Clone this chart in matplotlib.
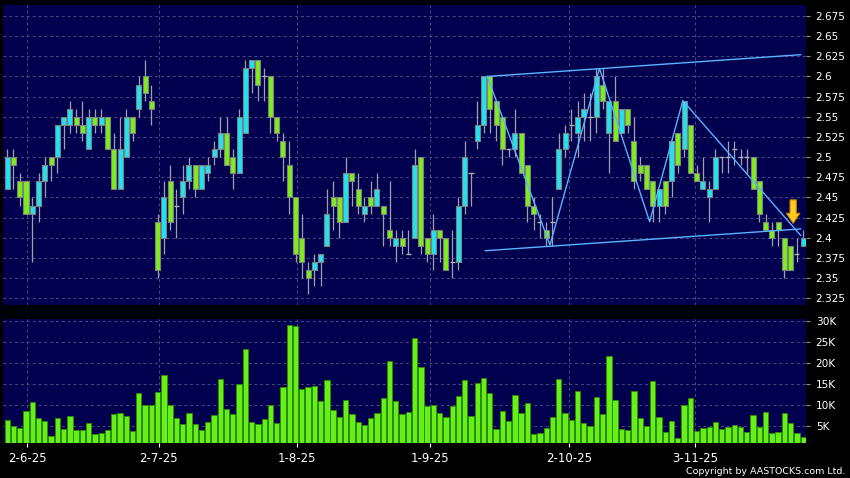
import matplotlib
matplotlib.use("Agg")
import matplotlib.pyplot as plt
import numpy as np

# daily OHLC, one entry per trading day (index 0 .. 127)
opens = [2.46, 2.50, 2.47, 2.47, 2.43, 2.44, 2.47, 2.50, 2.50, 2.54,
         2.54, 2.55, 2.54, 2.51, 2.55, 2.54, 2.55, 2.51, 2.46, 2.50,
         2.55, 2.56, 2.60, 2.57, 2.42, 2.40, 2.47, 2.44, 2.45, 2.47,
         2.49, 2.46, 2.48, 2.50, 2.51, 2.53, 2.50, 2.48, 2.53, 2.61,
         2.62, 2.60, 2.60, 2.55, 2.52, 2.49, 2.45, 2.40, 2.36, 2.36,
         2.37, 2.39, 2.45, 2.45, 2.42, 2.48, 2.46, 2.43, 2.45, 2.44,
         2.44, 2.41, 2.39, 2.40, 2.38, 2.40, 2.50, 2.40, 2.38, 2.41,
         2.40, 2.37, 2.37, 2.44, 2.48, 2.52, 2.54, 2.60, 2.57, 2.55,
         2.51, 2.51, 2.53, 2.49, 2.44, 2.42, 2.41, 2.42, 2.46, 2.51,
         2.54, 2.53, 2.55, 2.55, 2.55, 2.59, 2.53, 2.57, 2.53, 2.56,
         2.52, 2.49, 2.49, 2.47, 2.44, 2.47, 2.47, 2.53, 2.51, 2.54,
         2.48, 2.46, 2.45, 2.46, 2.50, 2.50, 2.51, 2.50, 2.50, 2.50,
         2.47, 2.42, 2.41, 2.42, 2.40, 2.39, 2.38, 2.39]
highs = [2.51, 2.51, 2.48, 2.47, 2.45, 2.48, 2.50, 2.50, 2.54, 2.55,
         2.57, 2.56, 2.57, 2.56, 2.56, 2.56, 2.55, 2.53, 2.55, 2.56,
         2.55, 2.60, 2.62, 2.59, 2.43, 2.47, 2.49, 2.46, 2.49, 2.50,
         2.49, 2.49, 2.50, 2.52, 2.55, 2.55, 2.51, 2.56, 2.62, 2.62,
         2.62, 2.61, 2.60, 2.55, 2.53, 2.52, 2.45, 2.43, 2.37, 2.38,
         2.38, 2.46, 2.47, 2.45, 2.50, 2.48, 2.48, 2.45, 2.47, 2.48,
         2.44, 2.47, 2.41, 2.41, 2.41, 2.51, 2.50, 2.40, 2.43, 2.41,
         2.40, 2.41, 2.45, 2.52, 2.48, 2.57, 2.60, 2.60, 2.57, 2.55,
         2.51, 2.56, 2.53, 2.49, 2.45, 2.43, 2.42, 2.45, 2.53, 2.54,
         2.56, 2.57, 2.58, 2.58, 2.61, 2.61, 2.57, 2.60, 2.56, 2.56,
         2.55, 2.50, 2.49, 2.47, 2.46, 2.47, 2.52, 2.53, 2.57, 2.54,
         2.49, 2.50, 2.47, 2.51, 2.50, 2.52, 2.52, 2.51, 2.51, 2.50,
         2.47, 2.43, 2.42, 2.42, 2.40, 2.39, 2.40, 2.41]
lows = [2.46, 2.46, 2.44, 2.43, 2.37, 2.42, 2.45, 2.47, 2.48, 2.51,
        2.53, 2.53, 2.52, 2.51, 2.53, 2.53, 2.51, 2.46, 2.46, 2.50,
        2.52, 2.55, 2.57, 2.54, 2.35, 2.38, 2.41, 2.40, 2.43, 2.46,
        2.45, 2.46, 2.47, 2.49, 2.50, 2.49, 2.46, 2.48, 2.53, 2.58,
        2.57, 2.57, 2.53, 2.52, 2.47, 2.43, 2.37, 2.35, 2.33, 2.34,
        2.34, 2.39, 2.41, 2.40, 2.42, 2.44, 2.43, 2.42, 2.43, 2.44,
        2.39, 2.39, 2.37, 2.38, 2.38, 2.40, 2.38, 2.37, 2.36, 2.37,
        2.36, 2.35, 2.36, 2.43, 2.44, 2.51, 2.53, 2.53, 2.52, 2.49,
        2.50, 2.50, 2.48, 2.42, 2.41, 2.40, 2.39, 2.39, 2.46, 2.50,
        2.52, 2.50, 2.52, 2.52, 2.53, 2.56, 2.48, 2.52, 2.53, 2.53,
        2.46, 2.47, 2.46, 2.42, 2.42, 2.43, 2.45, 2.48, 2.50, 2.48,
        2.47, 2.46, 2.42, 2.46, 2.48, 2.48, 2.49, 2.49, 2.48, 2.46,
        2.42, 2.41, 2.39, 2.39, 2.35, 2.36, 2.37, 2.39]
closes = [2.50, 2.49, 2.45, 2.43, 2.44, 2.47, 2.49, 2.49, 2.54, 2.55,
          2.56, 2.54, 2.53, 2.55, 2.54, 2.55, 2.51, 2.46, 2.51, 2.55,
          2.53, 2.59, 2.58, 2.56, 2.36, 2.45, 2.42, 2.44, 2.47, 2.49,
          2.46, 2.49, 2.49, 2.51, 2.53, 2.49, 2.48, 2.55, 2.61, 2.62,
          2.59, 2.60, 2.55, 2.53, 2.50, 2.45, 2.38, 2.37, 2.35, 2.37,
          2.38, 2.43, 2.44, 2.42, 2.48, 2.47, 2.44, 2.44, 2.44, 2.46,
          2.43, 2.40, 2.40, 2.39, 2.38, 2.49, 2.39, 2.38, 2.41, 2.40,
          2.36, 2.37, 2.44, 2.50, 2.48, 2.54, 2.60, 2.56, 2.54, 2.51,
          2.51, 2.53, 2.48, 2.44, 2.43, 2.42, 2.40, 2.42, 2.51, 2.53,
          2.54, 2.55, 2.56, 2.55, 2.60, 2.57, 2.57, 2.52, 2.56, 2.54,
          2.47, 2.48, 2.46, 2.44, 2.46, 2.44, 2.52, 2.49, 2.57, 2.48,
          2.47, 2.47, 2.46, 2.50, 2.50, 2.50, 2.51, 2.50, 2.50, 2.46,
          2.43, 2.41, 2.40, 2.41, 2.36, 2.36, 2.38, 2.40]
# volume in thousands of shares
volumes_k = [6.4, 5.1, 4.5, 8.6, 10.6, 6.8, 6.1, 2.6, 6.8, 4.4,
             7.4, 4.0, 4.0, 5.6, 3.1, 3.3, 4.0, 7.8, 8.0, 7.4,
             3.8, 12.8, 9.9, 9.9, 13.0, 17.2, 9.9, 6.8, 5.5, 8.0,
             5.5, 4.1, 6.0, 7.5, 16.3, 9.1, 7.9, 15.0, 23.4, 6.0,
             5.4, 6.7, 9.9, 5.6, 14.4, 29.0, 28.7, 13.8, 14.4, 14.5,
             10.9, 15.9, 8.9, 7.2, 11.2, 7.9, 6.0, 5.2, 6.8, 8.1,
             11.7, 20.5, 11.0, 7.9, 8.3, 26.0, 19.0, 9.8, 10.0, 8.1,
             7.1, 9.8, 12.1, 15.9, 7.3, 15.2, 16.5, 12.8, 4.3, 8.6,
             6.3, 12.4, 8.0, 10.4, 3.1, 3.3, 4.5, 7.1, 16.3, 8.2,
             6.4, 13.4, 5.6, 5.0, 12.0, 7.8, 21.6, 11.3, 4.3, 4.0,
             13.3, 6.8, 5.0, 15.6, 7.1, 3.6, 6.2, 2.1, 9.9, 11.6,
             3.7, 4.5, 4.8, 6.0, 4.4, 4.8, 5.2, 4.7, 3.5, 7.6,
             4.7, 8.4, 3.4, 3.6, 8.0, 5.6, 3.4, 2.4]

date_labels = ["2-6-25", "2-7-25", "1-8-25", "1-9-25", "2-10-25", "3-11-25"]
date_index = [3.2, 24.2, 46.3, 67.5, 89.7, 109.8]

# hand-drawn trend lines (x in trading-day index, y in price)
upper_x = [76.6, 126.6]
upper_y = [2.600, 2.627]
lower_x = [76.3, 126.6]
lower_y = [2.384, 2.411]
zigzag_x = [76.6, 86.6, 94.5, 102.5, 107.8, 126.6]
zigzag_y = [2.600, 2.391, 2.610, 2.420, 2.570, 2.403]
arrow_x = 125.4
arrow_top, arrow_tip = 2.447, 2.418

BG = "#00004e"
CYAN = "#1ee4f0"
GREEN = "#7cee1c"
VOLGREEN = "#66f01a"
GRID = "#4c4c80"

o = np.array(opens)
h = np.array(highs)
l = np.array(lows)
c = np.array(closes)
x = np.arange(len(o))

fig = plt.figure(figsize=(8.5, 4.78), dpi=100, facecolor="black")
ax = fig.add_axes([3 / 850, 1 - 305 / 478, 803 / 850, 300 / 478], facecolor=BG)
axv = fig.add_axes([3 / 850, 1 - 443.3 / 478, 803 / 850, 124 / 478], facecolor=BG, sharex=ax)

# candles
ax.vlines(x, l, h, color="#a0a0a8", lw=0.9, zorder=2)
doji = o == c
body = ~doji
cols = np.where(c > o, CYAN, GREEN)
ax.bar(x[body], np.abs(c - o)[body], bottom=np.minimum(o, c)[body], width=0.8,
       color=cols[body], edgecolor="#808080", linewidth=0.8, zorder=3)
ax.hlines(o[doji], x[doji] - 0.4, x[doji] + 0.4, color="#b0b0b0", lw=1.0, zorder=3)

# trend lines
for lx, ly in [(upper_x, upper_y), (lower_x, lower_y), (zigzag_x, zigzag_y)]:
    ax.plot(lx, ly, color="#5ab4ff", lw=1.0, zorder=4)
ax.annotate("", xy=(arrow_x, arrow_tip), xytext=(arrow_x, arrow_top),
            arrowprops=dict(arrowstyle="simple,head_width=0.6,head_length=0.45,tail_width=0.28",
                            fc="#ffcc22", ec="#d08a00", lw=0.8, mutation_scale=16,
                            shrinkA=0, shrinkB=0),
            zorder=5)

ax.set_xlim(-0.67, 127.45)
ax.set_ylim(2.3167, 2.6886)
yt = np.arange(2.325, 2.676, 0.025)
ax.set_yticks(yt)
ax.set_yticklabels(["%g" % round(v, 3) for v in yt])

# volume
axv.bar(x, np.array(volumes_k) * 1000, width=0.85, color=VOLGREEN,
        edgecolor="#2f8a00", linewidth=0.7, zorder=3)
axv.set_ylim(880, 30400)
vt = np.arange(5000, 30001, 5000)
axv.set_yticks(vt)
axv.set_yticklabels(["%dK" % (v // 1000) for v in vt])

for a in (ax, axv):
    a.yaxis.tick_right()
    a.tick_params(axis="y", colors="white", labelsize=7.6, length=3, pad=4)
    a.tick_params(axis="y", color="#909090")
    a.grid(True, color=GRID, lw=0.7, ls=(0, (3, 3)))
    a.set_axisbelow(True)
    for s in a.spines.values():
        s.set_visible(False)

axv.set_xticks(date_index)
axv.set_xticklabels(date_labels)
axv.tick_params(axis="x", colors="white", labelsize=8.5, length=3, pad=3)
ax.tick_params(axis="x", bottom=False, labelbottom=False)

fig.text(845 / 850, 1 - 471.5 / 478, "Copyright by AASTOCKS.com Ltd.",
         ha="right", va="center", color="white", fontsize=6.8)

fig.savefig("out.png", dpi=100, facecolor="black")
